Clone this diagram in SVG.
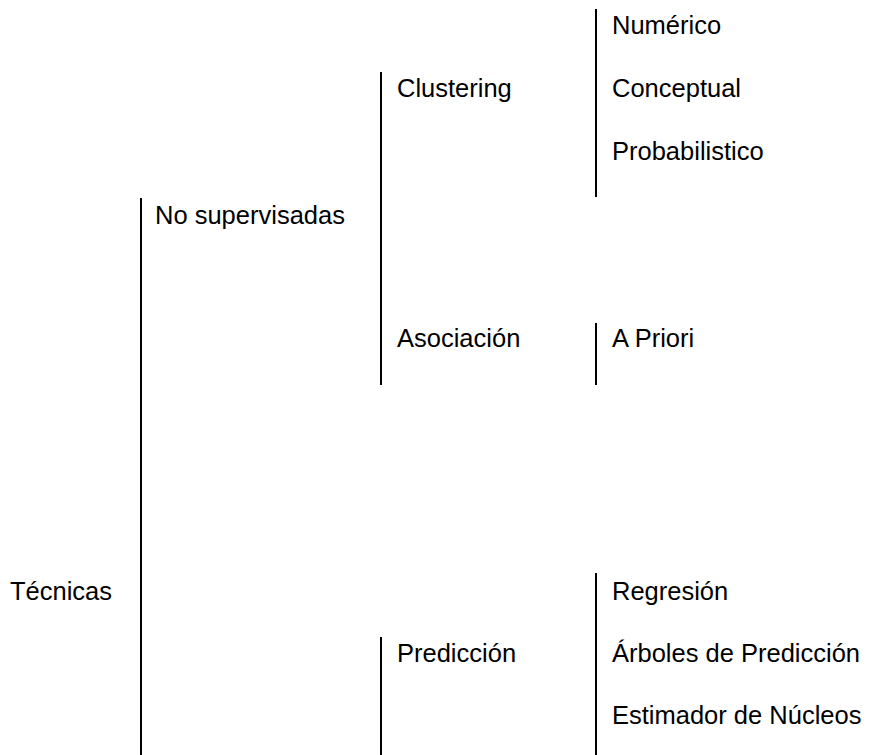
<svg xmlns="http://www.w3.org/2000/svg" width="874" height="755" viewBox="0 0 874 755">
<style>
text{font-family:"Liberation Sans",Arial,sans-serif;font-size:25.5px;fill:#000}
.br{stroke:#000;stroke-width:2;fill:none}
</style>
<rect width="874" height="755" fill="#fff"/>
<g id="connectors">
<line class="br" x1="141" y1="198" x2="141" y2="755"/>
<line class="br" x1="381" y1="72" x2="381" y2="385"/>
<line class="br" x1="596" y1="9" x2="596" y2="197"/>
<line class="br" x1="596" y1="323" x2="596" y2="385"/>
<line class="br" x1="381" y1="637" x2="381" y2="755"/>
<line class="br" x1="596" y1="573" x2="596" y2="755"/>
</g>
<g id="tecnicas"><text x="10" y="600">Técnicas</text></g>
<g id="nosup"><text x="155" y="224">No supervisadas</text></g>
<g id="clustering"><text x="397" y="97">Clustering</text></g>
<g id="asociacion"><text x="397" y="347">Asociación</text></g>
<g id="prediccion"><text x="397" y="662">Predicción</text></g>
<g id="numerico"><text x="612" y="34">Numérico</text></g>
<g id="conceptual"><text x="612" y="97">Conceptual</text></g>
<g id="probabilistico"><text x="612" y="160">Probabilistico</text></g>
<g id="apriori"><text x="612" y="347">A Priori</text></g>
<g id="regresion"><text x="612" y="600">Regresión</text></g>
<g id="arboles"><text x="612" y="662">Árboles de Predicción</text></g>
<g id="estimador"><text x="612" y="724">Estimador de Núcleos</text></g>
</svg>
